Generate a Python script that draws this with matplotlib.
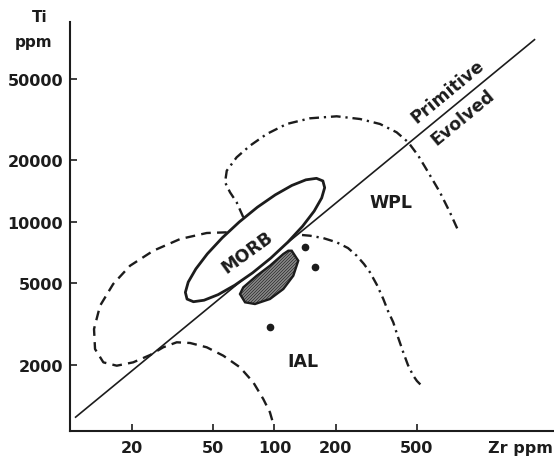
import matplotlib
matplotlib.use("Agg")
import matplotlib.pyplot as plt
from matplotlib.patches import Polygon

# ---------------- data (Zr ppm, Ti ppm) ----------------
ZR_TICKS = [20, 50, 100, 200, 500]
TI_TICKS = [2000, 5000, 10000, 20000, 50000]

# Primitive / Evolved dividing line
DIVIDE_ZR = [10.6, 1885]
DIVIDE_TI = [1110, 77500]

# MORB field (solid outline)
MORB_ZR = [172.9, 176.4, 170.6, 156.7, 137.5, 116.3, 96.0, 78.2, 63.9, 53.0, 45.2, 40.1,
           37.3, 36.6, 37.8, 41.2, 46.9, 55.5, 67.3, 82.5, 101.0, 121.8, 142.7, 160.8]
MORB_TI = [15820, 14670, 13070, 11270, 9507, 7941, 6642, 5629, 4895, 4404, 4135, 4066,
           4189, 4518, 5070, 5880, 6966, 8344, 9977, 11770, 13530, 15040, 16020, 16290]

# hatched field below MORB
BLOB_ZR = [121.6, 130.9, 123.8, 110.6, 95.1, 80.3, 71.8, 67.8, 70.4, 81.9, 95.1, 110.6, 117.0]
BLOB_TI = [7217, 6450, 5446, 4690, 4192, 3962, 4039, 4434, 4781, 5446, 6095, 6955, 7217]

# IAL field boundary (dashed)
IAL_ZR = [58.4, 46.6, 34.5, 25.5, 19.6, 16.2, 13.97, 13.05, 13.2, 14.5, 16.87, 20.3,
          24.6, 28.5, 33.2, 38.6, 46.6, 56.2, 67.8, 78.8, 88.2, 95.1, 98.8]
IAL_TI = [8875, 8808, 8232, 7217, 6095, 4962, 3887, 2991, 2388, 2056, 1980, 2056,
          2233, 2435, 2576, 2556, 2435, 2215, 1944, 1642, 1361, 1172, 1027]

# WPL field boundary, upper (dash-dot)
WPL_ZR = [70.4, 65.3, 60.6, 57.3, 58.4, 65.3, 75.9, 91.7, 114.9, 149.4, 202.0, 262.9,
          329.4, 397.6, 453.3, 507.5, 568.0, 648.3, 725.6, 797.0]
WPL_TI = [10510, 12440, 13920, 15580, 17750, 20640, 23510, 26820, 30020, 32000, 32730,
          31750, 30020, 27340, 24430, 21010, 17430, 13920, 11110, 9038]

# WPL / IAL boundary, lower (dash-dot)
WPL_LOW_ZR = [136.6, 149.4, 173.1, 202.0, 229.5, 253.2, 274.9, 294.2, 318.4, 342.0,
              360.6, 382.7, 403.5, 428.4, 451.7, 479.6, 500.0, 527.3]
WPL_LOW_TI = [8610, 8543, 8325, 7932, 7437, 6823, 6214, 5660, 4906, 4192,
              3663, 3225, 2734, 2301, 1995, 1769, 1667, 1580]

# isolated samples
DOT_ZR = [141.3, 158.2, 95.1]
DOT_TI = [7500, 5985, 3048]

# labels
FIELD_LABELS = ["MORB", "WPL", "IAL"]
FIELD_ZR = [73.4, 373, 138]
FIELD_TI = [7112, 12480, 2087]
LINE_LABELS = ["Primitive", "Evolved"]
LINE_LABEL_ZR = [709.6, 840.6]
LINE_LABEL_TI = [43500, 32470]

# ---------------- drawing ----------------
plt.rcParams["font.family"] = ["DejaVu Sans"]
plt.rcParams["hatch.linewidth"] = 1.0
plt.rcParams["lines.scale_dashes"] = False

INK = "#1c1c1c"
fig = plt.figure(figsize=(5.54, 4.64), dpi=100)
ax = fig.add_axes([70 / 554, (464 - 431.7) / 464, (553 - 70) / 554, (431.7 - 23) / 464])
ax.set_xscale("log")
ax.set_yscale("log")
ax.set_xlim(9.95, 2323)
ax.set_ylim(953, 94540)

for s in ["top", "right"]:
    ax.spines[s].set_visible(False)
for s in ["left", "bottom"]:
    ax.spines[s].set_linewidth(1.5)
    ax.spines[s].set_color(INK)

ax.set_xticks(ZR_TICKS)
ax.set_xticklabels([str(v) for v in ZR_TICKS])
ax.set_yticks(TI_TICKS)
ax.set_yticklabels([str(v) for v in TI_TICKS])
ax.minorticks_off()
ax.tick_params(which="both", direction="in", length=5, width=1.2, color=INK,
               labelsize=11.5, labelcolor=INK)
ax.tick_params(axis="y", pad=5)
ax.tick_params(axis="x", pad=7)
for lab in ax.get_xticklabels() + ax.get_yticklabels():
    lab.set_fontweight("bold")

# dividing line
ax.plot(DIVIDE_ZR, DIVIDE_TI, color=INK, lw=1.2, zorder=2)

# IAL dashed boundary
ax.plot(IAL_ZR, IAL_TI, color=INK, lw=1.7, linestyle=(0, (7, 4.5)), zorder=3)

# WPL dash-dot boundaries
dashdot = (0, (7, 3.5, 1.6, 3.5))
ax.plot(WPL_ZR, WPL_TI, color=INK, lw=1.7, linestyle=dashdot, zorder=3)
ax.plot(WPL_LOW_ZR, WPL_LOW_TI, color=INK, lw=1.7, linestyle=dashdot, zorder=3)

# hatched field
blob_xy = list(zip(BLOB_ZR, BLOB_TI))
ax.add_patch(Polygon(blob_xy, closed=True, facecolor="#2a2a2a", edgecolor="#8c8c8c",
                     hatch="/" * 11, lw=0, zorder=4))
ax.add_patch(Polygon(blob_xy, closed=True, fill=False, edgecolor=INK, lw=1.7, zorder=5))

# MORB field
ax.add_patch(Polygon(list(zip(MORB_ZR, MORB_TI)), closed=True, facecolor="white",
                     edgecolor=INK, lw=2.0, joinstyle="round", zorder=6))

# sample dots
ax.plot(DOT_ZR, DOT_TI, "o", color=INK, ms=4.5, zorder=7)

# field labels
rots = [36, 0, 0]
for t, zx, ty, r in zip(FIELD_LABELS, FIELD_ZR, FIELD_TI, rots):
    ax.text(zx, ty, t, ha="center", va="center", rotation=r, rotation_mode="anchor",
            fontsize=12.5, fontweight="bold", color=INK, zorder=8)

for t, zx, ty in zip(LINE_LABELS, LINE_LABEL_ZR, LINE_LABEL_TI):
    ax.text(zx, ty, t, ha="center", va="center", rotation=39.5, rotation_mode="anchor",
            fontsize=12.5, fontweight="bold", color=INK, zorder=8)

# axis titles
fig.text(40 / 554, 1 - 18 / 464, "Ti", ha="center", va="center", fontsize=11,
         fontweight="bold", color=INK)
fig.text(34 / 554, 1 - 43 / 464, "ppm", ha="center", va="center", fontsize=11,
         fontweight="bold", color=INK)
fig.text(520 / 554, 1 - 449 / 464, "Zr ppm", ha="center", va="center", fontsize=11.5,
         fontweight="bold", color=INK)

fig.savefig("out.png", dpi=100, facecolor="white")
